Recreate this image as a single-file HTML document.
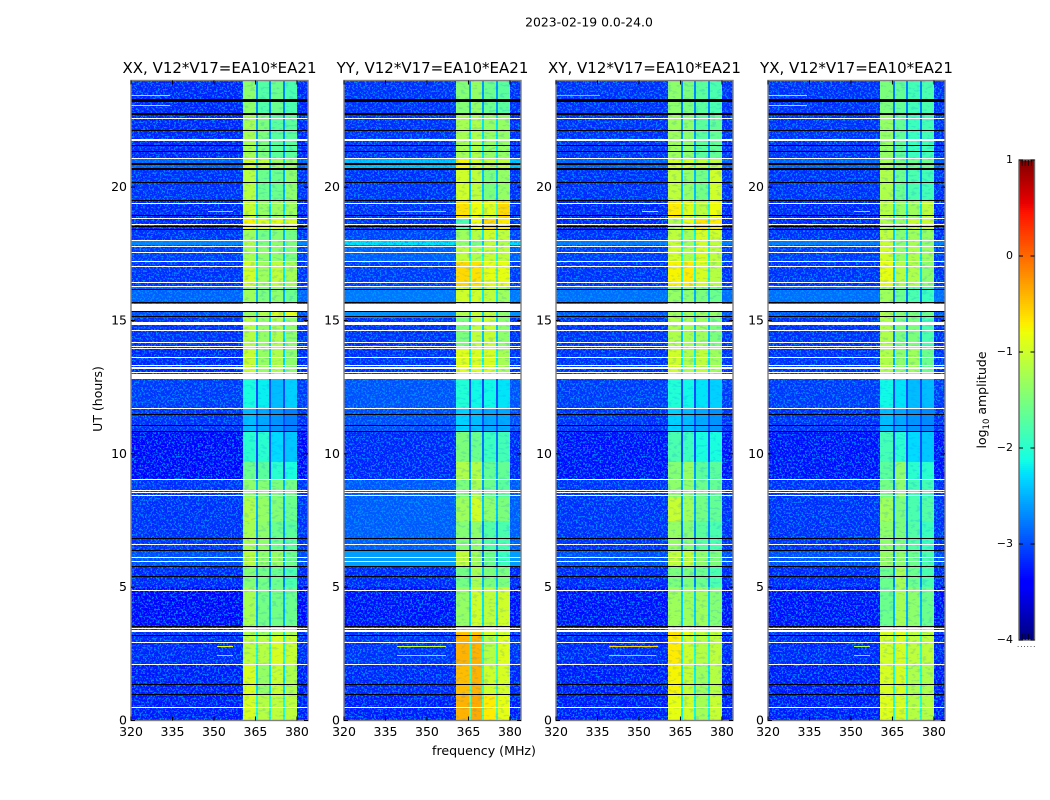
<!DOCTYPE html>
<html>
<head>
<meta charset="utf-8">
<title>2023-02-19 0.0-24.0</title>
<style>
html,body{margin:0;padding:0;background:#fff;width:1050px;height:800px;overflow:hidden}
svg{display:block}
text{font-family:"DejaVu Sans","Liberation Sans",sans-serif;fill:#000}
</style>
</head>
<body>
<svg id="figure" xmlns="http://www.w3.org/2000/svg" width="1050" height="800" viewBox="0 0 1050 800">
<defs>
<filter id="speckle" x="0" y="0" width="100%" height="100%" color-interpolation-filters="sRGB">
<feTurbulence type="fractalNoise" baseFrequency="0.55" numOctaves="2" seed="7"/>
<feColorMatrix type="matrix" values="0 0 0 0 0  0 0 0 0 0.62  0 0 0 0 1  10 0 0 0 -5.2"/>
</filter>
<filter id="mottle" x="0" y="0" width="100%" height="100%" color-interpolation-filters="sRGB">
<feTurbulence type="fractalNoise" baseFrequency="0.18 0.4" numOctaves="2" seed="3"/>
<feColorMatrix type="matrix" values="0 0 0 0 0  0 0 0 0 0.45  0 0 0 0 1  8 0 0 0 -4.4"/>
</filter>
</defs>
<text x="589" y="26.5" font-size="12.4" text-anchor="middle">2023-02-19 0.0-24.0</text>
<text x="484" y="755" font-size="12.6" text-anchor="middle">frequency (MHz)</text>
<text x="0" y="0" font-size="12.5" text-anchor="middle" transform="translate(102 399) rotate(-90)">UT (hours)</text>
<text x="0" y="0" font-size="12.5" text-anchor="middle" transform="translate(986 400) rotate(-90)">log<tspan font-size="8.5" dy="3">10</tspan><tspan dy="-3"> amplitude</tspan></text>
<text x="1017" y="647" font-size="7" fill="#666" letter-spacing="1">......</text>
<g id="plots"></g>
<g id="colorbar"></g>
</svg>
<script>
// Axis categories
const panelTitles = ["XX, V12*V17=EA10*EA21", "YY, V12*V17=EA10*EA21", "XY, V12*V17=EA10*EA21", "YX, V12*V17=EA10*EA21"];
const freqTicks = [320, 335, 350, 365, 380];
const hourTicks = [0, 5, 10, 15, 20];
const colorTicks = [1, 0, -1, -2, -3, -4];
const colorTickLabels = ["1", "0", "\u22121", "\u22122", "\u22123", "\u22124"];
const freqRange = [320, 384];
const hourRange = [0, 24];
const colorRange = [-4, 1];
// Frequency band edges (MHz): sub-band low/high pairs
const bandEdges = [[360.6, 365.1], [365.8, 369.9], [370.6, 374.9], [375.7, 379.9]];
// Time-row edges (UT hours)
const rowEdges = [0, 1, 2.1, 3.2, 3.55, 5, 5.8, 6.4, 7.5, 8.4, 9.05, 9.7, 10.83, 11.7, 12.85, 14, 15.1, 15.6, 16.3, 17.2, 17.85, 18, 18.45, 18.85, 19.5, 20.7, 21.1, 22.7, 24];
// log10 amplitude per row: [off-band, band1, band2, band3, band4]
const levelsXX = [
[-3.28,-0.95,-1.15,-1.1,-1.1],[-3.28,-0.95,-1.35,-1.05,-1.2],[-3.23,-1.1,-1.15,-0.95,-1.05],[-3.18,-1.2,-1.3,-1.2,-1.2],
[-3.38,-1.25,-1.55,-1.55,-1.6],[-3.23,-1.45,-1.55,-1.6,-1.8],[-3.03,-1.15,-1.4,-1.35,-1.6],[-3.18,-1.25,-1.4,-1.6,-1.7],
[-3.18,-1.2,-1.35,-1.45,-1.6],[-3.18,-1.4,-1.45,-1.5,-1.55],[-3.38,-1.6,-1.7,-2.0,-2.1],[-3.38,-2.0,-2.0,-2.3,-2.4],
[-3.18,-2.45,-2.55,-2.65,-2.75],[-3.13,-2.1,-2.2,-2.45,-2.35],[-3.23,-1.05,-1.35,-1.2,-1.4],[-3.18,-1.15,-1.35,-1.2,-1.4],
[-3.03,-1.35,-1.2,-0.95,-0.9],[-2.92,-1.3,-1.5,-1.4,-1.6],[-3.18,-1.0,-1.3,-1.1,-1.25],[-3.13,-1.25,-1.4,-1.4,-1.5],
[-2.75,-1.2,-1.5,-1.4,-1.5],[-3.18,-1.3,-1.55,-1.45,-1.55],[-3.23,-0.75,-0.95,-0.9,-0.95],[-3.23,-1.05,-1.35,-1.3,-1.3],
[-3.18,-1.15,-1.6,-1.6,-1.4],[-2.92,-1.0,-1.1,-1.3,-1.35],[-3.23,-1.25,-1.5,-1.7,-1.7],[-3.23,-1.4,-1.75,-1.6,-1.8]];
const levelsYY = [
[-3.28,-0.4,-0.35,-0.7,-0.85],[-3.23,-0.45,-0.4,-1.0,-0.95],[-3.18,-0.4,-0.4,-1.15,-0.9],[-3.18,-0.5,-0.5,-1.0,-1.0],
[-3.33,-1.35,-1.0,-1.1,-1.0],[-3.23,-1.55,-1.25,-1.5,-1.5],[-2.6,-1.1,-1.3,-1.6,-1.9],[-2.95,-1.45,-1.4,-1.75,-1.8],
[-2.95,-1.3,-1.0,-1.4,-1.5],[-2.98,-1.5,-1.25,-1.6,-1.7],[-3.23,-1.2,-1.2,-1.65,-1.65],[-3.23,-1.5,-1.6,-1.9,-1.85],
[-3.03,-2.35,-2.45,-2.55,-2.55],[-3.0,-2.05,-2.15,-2.15,-2.25],[-3.18,-0.9,-0.95,-0.95,-1.25],[-3.18,-1.5,-1.1,-1.05,-1.4],
[-2.68,-1.2,-1.05,-1.1,-1.4],[-2.8,-1.0,-1.0,-1.1,-1.3],[-3.13,-0.6,-0.65,-0.85,-0.85],[-2.95,-1.1,-1.2,-1.05,-1.1],
[-2.25,-1.4,-1.5,-1.1,-1.2],[-3.08,-1.3,-1.15,-1.0,-1.1],[-3.18,-1.8,-0.8,-0.6,-0.7],[-3.18,-0.65,-0.8,-0.9,-0.6],
[-3.18,-1.0,-1.1,-1.5,-1.35],[-2.4,-0.75,-1.0,-1.1,-1.1],[-3.18,-1.25,-1.2,-1.35,-1.35],[-3.18,-1.45,-1.35,-1.6,-1.7]];
const levelsXY = [
[-3.28,-0.85,-1.0,-1.25,-1.05],[-3.28,-0.75,-1.05,-1.3,-1.15],[-3.23,-0.7,-1.0,-1.15,-1.1],[-3.18,-0.65,-0.85,-1.1,-1.1],
[-3.33,-1.3,-1.3,-1.3,-1.45],[-3.23,-1.5,-1.5,-1.6,-1.8],[-3.03,-1.1,-1.1,-1.4,-1.5],[-3.18,-1.35,-1.45,-1.7,-1.8],
[-3.18,-1.05,-1.3,-1.55,-1.65],[-3.18,-1.4,-1.4,-1.6,-1.65],[-3.33,-1.45,-1.35,-1.7,-1.7],[-3.33,-1.8,-1.9,-2.1,-2.1],
[-3.18,-2.35,-2.45,-2.55,-2.65],[-3.13,-2.05,-2.15,-2.25,-2.35],[-3.18,-1.0,-1.2,-1.1,-1.3],[-3.18,-1.2,-1.25,-1.3,-1.5],
[-2.98,-1.3,-1.3,-1.3,-1.35],[-2.85,-1.35,-1.4,-1.5,-1.6],[-3.18,-0.75,-0.7,-0.95,-1.15],[-3.13,-1.0,-1.2,-0.95,-1.1],
[-2.8,-1.05,-1.3,-1.0,-1.1],[-3.18,-1.1,-1.25,-0.95,-1.0],[-3.23,-1.2,-0.85,-0.65,-0.7],[-3.23,-0.7,-0.9,-1.1,-0.8],
[-3.18,-1.1,-1.35,-1.55,-1.0],[-2.92,-1.0,-1.0,-1.1,-1.1],[-3.18,-1.3,-1.4,-1.7,-1.65],[-3.18,-1.4,-1.5,-1.7,-1.8]];
const levelsYX = [
[-3.28,-0.9,-0.95,-1.15,-1.15],[-3.28,-0.95,-0.95,-1.2,-1.2],[-3.23,-1.0,-0.95,-1.1,-1.1],[-3.18,-0.95,-0.9,-1.1,-1.1],
[-3.33,-1.6,-1.25,-1.4,-1.6],[-3.23,-1.6,-1.25,-1.6,-1.8],[-3.03,-1.35,-1.4,-1.6,-1.8],[-3.18,-1.4,-1.5,-1.75,-1.9],
[-3.18,-1.3,-1.5,-1.8,-1.75],[-3.18,-1.55,-1.4,-1.85,-1.85],[-3.33,-1.7,-1.4,-2.0,-2.0],[-3.33,-1.85,-2.0,-2.3,-2.4],
[-3.18,-2.45,-2.55,-2.65,-2.7],[-3.13,-2.15,-2.25,-2.45,-2.45],[-3.18,-1.2,-1.4,-1.3,-1.6],[-3.18,-1.2,-1.5,-1.5,-1.8],
[-2.98,-1.2,-1.45,-1.5,-1.6],[-2.85,-1.3,-1.6,-1.8,-1.9],[-3.18,-0.85,-1.15,-1.2,-1.4],[-3.13,-1.0,-1.35,-1.2,-1.3],
[-2.8,-1.05,-1.4,-1.25,-1.4],[-3.18,-1.1,-1.45,-1.3,-1.35],[-3.23,-1.2,-1.35,-1.05,-1.05],[-3.23,-1.15,-1.35,-1.3,-1.1],
[-3.18,-1.2,-1.6,-1.8,-1.85],[-2.92,-1.25,-1.5,-1.6,-1.6],[-3.18,-1.35,-1.65,-1.9,-1.85],[-3.18,-1.5,-1.65,-1.85,-1.8]];
// Narrow-band interference: [UT hour, f low, f high, log10 amplitude]
const rfiXX = [[23.44,320,334,-0.6],[23.06,320,334,-0.6],[19.1,348,357,-1.9],[2.78,351,357,-0.8],[2.44,351,357,-1.9]];
const rfiYY = [[19.1,339,357,-1.9],[2.78,339,357,-1.0],[2.44,339,357,-1.7]];
const rfiXY = [[19.1,351,357,-1.2],[2.78,339,357,-0.6],[2.44,339,356,-1.9],[23.44,320,336,-2.2]];
const rfiYX = [[23.44,320,334,-0.6],[23.06,320,334,-0.6],[19.1,351,357,-1.9],[2.78,351,357,-1.2],[2.44,351,357,-1.9]];
// Fully flagged integrations, shared by all panels: [UT hour low, UT hour high]
const blankRows = [[0.46,0.5],[2.07,2.11],[2.89,2.93],[3.33,3.38],[3.43,3.47],[4.84,4.88],[5.95,6.0],[6.1,6.15],[6.57,6.61],[8.42,8.46],[8.53,8.57],[8.6,8.64],[9.03,9.07],[11.67,11.71],[12.82,13.0],[13.03,13.07],[13.2,13.24],[13.3,13.34],[13.58,13.62],[13.92,13.96],[13.99,14.03],[14.16,14.2],[14.6,14.64],[14.82,14.96],[15.37,15.39],[15.41,15.62],[16.25,16.29],[16.4,16.44],[17.0,17.03],[17.2,17.24],[17.54,17.58],[17.76,17.81],[17.97,18.01],[18.57,18.61],[18.79,18.83],[19.38,19.42],[21.04,21.08],[21.75,21.79],[22.54,22.58]];
// Zero-amplitude integrations, shared by all panels: [UT hour low, UT hour high]
const zeroRows = [[0.94,0.98],[1.32,1.36],[3.16,3.2],[3.52,3.56],[5.38,5.42],[5.75,5.79],[6.37,6.41],[6.79,6.83],[10.81,10.85],[11.03,11.07],[11.44,11.48],[15.12,15.16],[15.33,15.37],[15.65,15.69],[16.15,16.19],[18.39,18.45],[18.5,18.56],[18.92,18.96],[19.48,19.52],[20.14,20.18],[20.63,20.71],[20.85,20.89],[21.33,21.37],[21.54,21.58],[22.09,22.13],[22.69,22.77],[23.19,23.29]];
const panelLevels = [levelsXX, levelsYY, levelsXY, levelsYX];
const panelRfi = [rfiXX, rfiYY, rfiXY, rfiYX];

const NS = "http://www.w3.org/2000/svg";
const PLOT_W = 177, PLOT_TOP = 80.5, PLOT_BOTTOM = 720.5;
const panelLefts = [131, 344, 556, 768];
const CB = {x: 1019, w: 15.5, top: 160, bottom: 640};
function xScale(left, f) { return left + (f - freqRange[0]) / (freqRange[1] - freqRange[0]) * PLOT_W; }
function yScale(h) { return PLOT_BOTTOM - (h - hourRange[0]) / (hourRange[1] - hourRange[0]) * (PLOT_BOTTOM - PLOT_TOP); }
function cbScale(v) { return CB.bottom - (v - colorRange[0]) / (colorRange[1] - colorRange[0]) * (CB.bottom - CB.top); }
function interp(t, pts) {
  for (let i = 1; i < pts.length; i++) {
    if (t <= pts[i][0]) {
      const a = pts[i - 1], b = pts[i];
      return a[1] + (b[1] - a[1]) * (t - a[0]) / (b[0] - a[0]);
    }
  }
  return pts[pts.length - 1][1];
}
function jet(v) {
  const t = Math.max(0, Math.min(1, (v - colorRange[0]) / (colorRange[1] - colorRange[0])));
  const r = interp(t, [[0,0],[.35,0],[.66,1],[.89,1],[1,.5]]);
  const g = interp(t, [[0,0],[.125,0],[.375,1],[.64,1],[.91,0],[1,0]]);
  const b = interp(t, [[0,.5],[.11,1],[.34,1],[.65,0],[1,0]]);
  return "rgb(" + Math.round(r * 255) + "," + Math.round(g * 255) + "," + Math.round(b * 255) + ")";
}
function make(tag, attrs, parent, txt) {
  const e = document.createElementNS(NS, tag);
  for (const k in attrs) e.setAttribute(k, attrs[k]);
  if (txt !== undefined) e.textContent = txt;
  parent.appendChild(e);
  return e;
}
function rectBetween(x0, x1, y0, y1, fill, parent) {
  const top = Math.round(Math.min(y0, y1));
  const h = Math.max(1, Math.round(Math.max(y0, y1)) - top);
  const l = Math.round(x0);
  return make("rect", {x: l, y: top, width: Math.max(1, Math.round(x1) - l), height: h, fill: fill, "shape-rendering": "crispEdges"}, parent);
}

const plots = document.getElementById("plots");
panelLevels.forEach(function (levels, p) {
  const left = panelLefts[p];
  const right = left + PLOT_W;
  const g = make("g", {}, plots);
  
  

  const clip = make("clipPath", {id: "clip" + p}, g);
  make("rect", {x: left, y: PLOT_TOP, width: PLOT_W, height: PLOT_BOTTOM - PLOT_TOP}, clip);
  const body = make("g", {"clip-path": "url(#clip" + p + ")"}, g);

  // off-band heatmap cells
  levels.forEach(function (row, r) {
    const y0 = yScale(rowEdges[r]), y1 = yScale(rowEdges[r + 1]);
    const cell = rectBetween(left, right, y0, y1, jet(row[0]), body);
    
    
  });
  // speckle texture on the off-band background
  const tex = make("rect", {x: left, y: PLOT_TOP, width: PLOT_W, height: PLOT_BOTTOM - PLOT_TOP, filter: "url(#speckle)", opacity: "0.8"}, body);
  
  

  // in-band heatmap cells and the gaps between sub-bands
  levels.forEach(function (row, r) {
    const y0 = yScale(rowEdges[r]), y1 = yScale(rowEdges[r + 1]);
    const full = rectBetween(xScale(left, bandEdges[0][0]), xScale(left, bandEdges[3][1]), y0, y1, jet(Math.max(-3.0, Math.min(row[1], row[2], row[3], row[4]) - 0.9)), body);
    
    
    bandEdges.forEach(function (edge, b) {
      const cell = rectBetween(xScale(left, edge[0]), xScale(left, edge[1]), y0, y1, jet(row[b + 1]), body);
      
      
    });
  });
  // mottled texture across the band
  const mot = make("rect", {x: xScale(left, bandEdges[0][0]), y: PLOT_TOP, width: xScale(left, bandEdges[3][1]) - xScale(left, bandEdges[0][0]), height: PLOT_BOTTOM - PLOT_TOP, filter: "url(#mottle)", opacity: "0.14"}, body);
  
  

  // interference streaks
  panelRfi[p].forEach(function (s) {
    const y = yScale(s[0]);
    const line = rectBetween(xScale(left, s[1]), xScale(left, s[2]), y - 0.5, y + 0.5, jet(s[3]), body);
    
    
  });
  // flagged rows
  blankRows.forEach(function (s) {
    const line = rectBetween(left, right, yScale(s[0]), yScale(s[1]), "#ffffff", body);
    
    
  });
  zeroRows.forEach(function (s) {
    const line = rectBetween(left, right, yScale(s[0]), yScale(s[1]), "#000000", body);
    
    
  });

  // frame
  const frame = make("rect", {x: left, y: PLOT_TOP, width: PLOT_W, height: PLOT_BOTTOM - PLOT_TOP, fill: "none", stroke: "#808080", "stroke-width": "1.4"}, g);
  
  

  // x ticks
  freqTicks.forEach(function (f) {
    const x = xScale(left, f);
    const t1 = make("line", {x1: x, x2: x, y1: PLOT_BOTTOM, y2: PLOT_BOTTOM - 4, stroke: "#000"}, g);
    
    
    const t2 = make("line", {x1: x, x2: x, y1: PLOT_TOP, y2: PLOT_TOP + 4, stroke: "#000"}, g);
    
    
    const lab = make("text", {x: x, y: 736, "font-size": 12.5, "text-anchor": "middle"}, g, String(f));
    
    
  });
  // y ticks
  hourTicks.forEach(function (h) {
    const y = yScale(h);
    const t1 = make("line", {x1: left, x2: left + 4, y1: y, y2: y, stroke: "#000"}, g);
    
    
    const t2 = make("line", {x1: right, x2: right - 4, y1: y, y2: y, stroke: "#000"}, g);
    
    
    const lab = make("text", {x: left - 4, y: y + 4, "font-size": 12.5, "text-anchor": "end"}, g, String(h));
    
    
  });
  // title
  const title = make("text", {x: left + PLOT_W / 2, y: 73, "font-size": 15, "text-anchor": "middle"}, g, panelTitles[p]);
  
  
});

// colorbar
const cb = document.getElementById("colorbar");
const cbSteps = 240;
for (let i = 0; i < cbSteps; i++) {
  const v0 = colorRange[0] + (colorRange[1] - colorRange[0]) * i / cbSteps;
  const v1 = colorRange[0] + (colorRange[1] - colorRange[0]) * (i + 1) / cbSteps;
  const seg = rectBetween(CB.x, CB.x + CB.w, cbScale(v0), cbScale(v1), jet((v0 + v1) / 2), cb);
  
  
}
const cbFrame = make("rect", {x: CB.x, y: CB.top, width: CB.w, height: CB.bottom - CB.top, fill: "none", stroke: "#666", "stroke-width": "1.4"}, cb);


colorTicks.forEach(function (v, i) {
  const y = cbScale(v);
  const a = make("line", {x1: CB.x, x2: CB.x + 4, y1: y, y2: y, stroke: "#000"}, cb);
  
  
  const b = make("line", {x1: CB.x + CB.w, x2: CB.x + CB.w - 4, y1: y, y2: y, stroke: "#000"}, cb);
  
  
  const lab = make("text", {x: 1013, y: y + 3, "font-size": 11, "text-anchor": "end"}, cb, colorTickLabels[i]);
  
  
});
[0.2, 0.4, 0.6, 0.8].forEach(function (frac) {
  const x = CB.x + CB.w * frac;
  const top = make("line", {x1: x, x2: x, y1: CB.top, y2: CB.top + 6, stroke: "#000", "stroke-width": "0.8"}, cb);
  
  
  const bottom = make("line", {x1: x, x2: x, y1: CB.bottom, y2: CB.bottom - 6, stroke: "#000", "stroke-width": "0.8"}, cb);
  
  
});
</script>
</body>
</html>
